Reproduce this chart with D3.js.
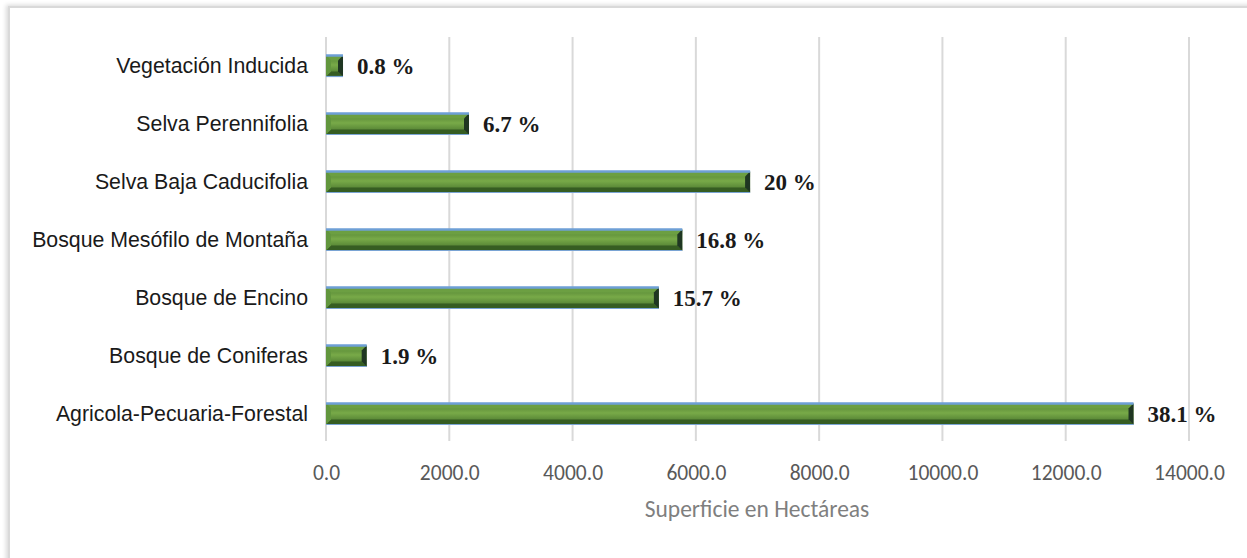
<!DOCTYPE html>
<html>
  <head>
    <meta charset="UTF-8">
    <title>Superficie en Hectáreas</title>
    <script src="https://cdn.jsdelivr.net/npm/d3@7"></script>
    <style>
      body { margin: 0; background: #fff; }
    </style>
  </head>
  <body>
    <svg width="1247" height="558"></svg>
    <script>
      // datos (de arriba hacia abajo)
      var categories = ["Vegetación Inducida", "Selva Perennifolia", "Selva Baja Caducifolia",
        "Bosque Mesófilo de Montaña ", "Bosque de Encino", "Bosque de Coniferas", "Agricola-Pecuaria-Forestal"];
      var values = [276, 2320, 6880, 5780, 5400, 660, 13100];
      var percentLabels = ["0.8 %", "6.7 %", "20 %", "16.8 %", "15.7 %", "1.9 %", "38.1 %"];
      var tickValues = [0, 2000, 4000, 6000, 8000, 10000, 12000, 14000];

      var svg = d3.select("svg");
      var marge = {top: 37, left: 326, right: 58, bottom: 116};

      // sombra del marco
      var defs = svg.append("defs");
      var f = defs.append("filter").attr("id", "shadow").attr("x", "-5%").attr("y", "-5%")
        .attr("width", "110%").attr("height", "110%");
      f.append("feDropShadow").attr("dx", -2).attr("dy", -1).attr("stdDeviation", 2)
        .attr("flood-color", "#000").attr("flood-opacity", 0.15);

      var grad = defs.append("linearGradient").attr("id", "barGrad")
        .attr("x1", 0).attr("y1", 0).attr("x2", 0).attr("y2", 1);
      grad.append("stop").attr("offset", "0%").attr("stop-color", "#4f7e31");
      grad.append("stop").attr("offset", "45%").attr("stop-color", "#78aa48");
      grad.append("stop").attr("offset", "100%").attr("stop-color", "#44702b");

      svg.append("rect")
        .attr("x", 9).attr("y", 7).attr("width", 1300).attr("height", 620)
        .attr("fill", "#fff").attr("stroke", "#d9d9d9").attr("stroke-width", 2)
        .attr("filter", "url(#shadow)");

      var xScale = d3.scaleLinear()
        .domain([0, 14000])
        .range([marge.left, 1189]);
      var yScale = d3.scaleBand()
        .domain(categories)
        .range([marge.top, marge.top + 406]);

      // lineas de cuadricula
      svg.append("g").selectAll("line")
        .data(tickValues)
        .enter().append("line")
        .attr("x1", function(d) { return xScale(d); })
        .attr("x2", function(d) { return xScale(d); })
        .attr("y1", marge.top)
        .attr("y2", 441)
        .attr("stroke", "#d9d9d9")
        .attr("stroke-width", 2);

      // eje x
      var xAxis = d3.axisBottom(xScale)
        .tickValues(tickValues)
        .tickFormat(d3.format(".1f"))
        .tickSize(0)
        .tickPadding(0);
      var gx = svg.append("g")
        .attr("transform", "translate(0,465)")
        .call(xAxis);
      gx.select(".domain").remove();
      gx.selectAll("text")
        .attr("font-family", "Carlito, Calibri, Lato, sans-serif")
        .attr("font-size", 21.5)
        .attr("fill", "#595959");

      svg.append("text")
        .attr("x", 757).attr("y", 517)
        .attr("text-anchor", "middle")
        .attr("font-family", "Carlito, Calibri, Lato, sans-serif")
        .attr("font-size", 23.5)
        .attr("fill", "#7f7f7f")
        .text("Superficie en Hectáreas");

      // eje y (etiquetas)
      svg.append("g").selectAll("text")
        .data(categories)
        .enter().append("text")
        .attr("x", 308)
        .attr("y", function(d) { return yScale(d) + yScale.bandwidth() / 2; })
        .attr("dy", "0.35em")
        .attr("text-anchor", "end")
        .attr("font-family", "'Liberation Sans', Arial, sans-serif")
        .attr("font-size", 21.3)
        .attr("fill", "#1a1a1a")
        .text(function(d) { return d.trim(); });

      // barras biseladas
      var barH = 21, b = 5;
      var gs = svg.append("g").selectAll("g")
        .data(values)
        .enter().append("g")
        .attr("transform", function(d, i) {
          return "translate(0," + (yScale(categories[i]) + yScale.bandwidth() / 2 - barH / 2) + ")";
        });

      gs.append("rect")
        .attr("x", xScale(0))
        .attr("y", 0)
        .attr("width", function(d) { return xScale(d) - xScale(0); })
        .attr("height", barH)
        .attr("fill", "url(#barGrad)");
      // bisel superior
      gs.append("polygon")
        .attr("points", function(d) {
          var x0 = xScale(0), x1 = xScale(d);
          return [[x0, 0], [x1, 0], [x1 - b, b], [x0 + b, b]].join(" ");
        })
        .attr("fill", "#6c9f42");
      // bisel inferior
      gs.append("polygon")
        .attr("points", function(d) {
          var x0 = xScale(0), x1 = xScale(d);
          return [[x0, barH], [x1, barH], [x1 - b, barH - b], [x0 + b, barH - b]].join(" ");
        })
        .attr("fill", "#365d22");
      // bisel izquierdo
      gs.append("polygon")
        .attr("points", function(d) {
          var x0 = xScale(0);
          return [[x0, 0], [x0 + b, b], [x0 + b, barH - b], [x0, barH]].join(" ");
        })
        .attr("fill", "#62963d");
      // bisel derecho
      gs.append("polygon")
        .attr("points", function(d) {
          var x1 = xScale(d);
          return [[x1, 0], [x1 - b, b], [x1 - b, barH - b], [x1, barH]].join(" ");
        })
        .attr("fill", "#1f3622");
      // borde azul
      gs.append("line")
        .attr("x1", xScale(0)).attr("x2", function(d) { return xScale(d); })
        .attr("y1", 0).attr("y2", 0)
        .attr("stroke", "#6e9fd6").attr("stroke-width", 2.5);
      gs.append("line")
        .attr("x1", xScale(0)).attr("x2", function(d) { return xScale(d); })
        .attr("y1", barH).attr("y2", barH)
        .attr("stroke", "#7aa4d4").attr("stroke-width", 1.2);

      // porcentajes
      gs.append("text")
        .attr("x", function(d) { return xScale(d) + 14; })
        .attr("y", barH / 2)
        .attr("dy", "0.35em")
        .attr("font-family", "'Liberation Serif', 'Times New Roman', serif")
        .attr("font-weight", "bold")
        .attr("font-size", 23)
        .attr("fill", "#1a1a1a")
        .text(function(d, i) { return percentLabels[i]; });
    </script>
  </body>
</html>
